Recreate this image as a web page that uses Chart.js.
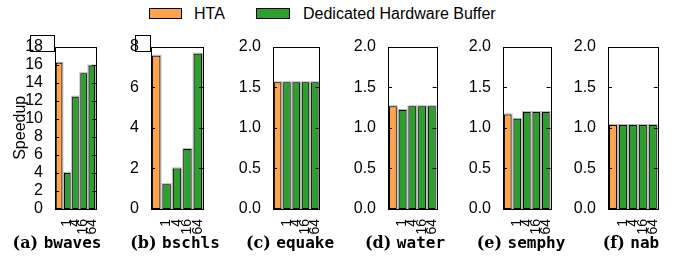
<!DOCTYPE html>
<html>
<head>
<meta charset="utf-8">
<script src="https://cdn.jsdelivr.net/npm/chart.js@4"></script>
<style>
body{margin:0;width:676px;height:260px;background:#fff;position:relative;overflow:hidden;font-family:'Liberation Sans',Arial,sans-serif;color:#000}
canvas{position:absolute}
.box{position:absolute;top:8px;height:9px;border:1px solid #000}
.lt{position:absolute;top:5px;font-size:16px;line-height:18px;white-space:nowrap}
.cap{position:absolute;top:233px;transform:translateX(-50%);white-space:nowrap;font-size:16px;line-height:20px}
.cap .l{font-family:'DejaVu Serif';font-weight:bold}
.cap .b{font-family:'DejaVu Sans Mono';font-weight:bold}
</style>
</head>
<body>
<div class="box" style="left:149px;width:31px;background:#FFA34D"></div>
<div class="lt" style="left:194px">HTA</div>
<div class="box" style="left:256px;width:32px;background:#2CA02C"></div>
<div class="lt" style="left:303px">Dedicated Hardware Buffer</div>
<script>
const categories = ['', '1', '4', '16', '64'];
const benchmarks = ['bwaves', 'bschls', 'equake', 'water', 'semphy', 'nab'];
const panelLetters = ['a', 'b', 'c', 'd', 'e', 'f'];
const htaSpeedup = [16.2, 7.55, 1.56, 1.265, 1.165, 1.035];
const bufferSpeedup = [
    [4.0, 12.45, 15.05, 15.9],
    [1.22, 2.0, 2.95, 7.65],
    [1.56, 1.56, 1.56, 1.56],
    [1.22, 1.265, 1.265, 1.265],
    [1.11, 1.195, 1.195, 1.195],
    [1.035, 1.035, 1.035, 1.035]
];
const yMax = [18, 8, 2, 2, 2, 2];
const yStep = [2, 2, 0.5, 0.5, 0.5, 0.5];

// plot frame positions in the page
const plotLeft = [55, 151, 273, 388, 503, 608];
const plotRight = [107, 213, 330, 447, 561, 668];
const capCenter = [57, 175, 290, 405, 521, 631];

const ORANGE = '#FFA34D';
const GREEN = '#2CA02C';

const frame = {
    id: 'frame',
    beforeDatasetsDraw(chart) {
        // soft grey halo round each bar
        const ctx = chart.ctx;
        ctx.save();
        ctx.fillStyle = '#bbb';
        chart.getDatasetMeta(0).data.forEach(bar => {
            const p = bar.getProps(['x', 'y', 'base', 'width'], true);
            ctx.fillRect(p.x - p.width / 2 - 1, p.y - 1, p.width + 2, p.base - p.y + 1);
        });
        ctx.restore();
    },
    afterDraw(chart, args, opts) {
        const {ctx, chartArea: {left, right, top, bottom}} = chart;
        const y = chart.scales.y;
        ctx.save();
        ctx.strokeStyle = '#000';
        ctx.lineWidth = 1;
        ctx.strokeRect(Math.round(left) + 0.5, Math.round(top) + 0.5, Math.round(right - left), Math.round(bottom - top));
        ctx.beginPath();
        y.ticks.forEach(t => {
            const py = Math.round(y.getPixelForValue(t.value)) + 0.5;
            ctx.moveTo(left, py); ctx.lineTo(left + 4, py);
            ctx.moveTo(right, py); ctx.lineTo(right - 4, py);
        });
        ctx.stroke();
        if (opts.boxTop) {
            const last = y.ticks[y.ticks.length - 1];
            ctx.font = '16px "Liberation Sans"';
            const w = ctx.measureText(last.label).width;
            const xr = left - 4;
            ctx.strokeRect(Math.round(xr - w - 3) + 0.5, 35.5 - chart.canvas.offsetTop, Math.round(w + 6), 16);
        }
        ctx.restore();
    }
};

benchmarks.forEach((name, i) => {
    const yw = i === 0 ? 55 : 40;
    const plotW = plotRight[i] - plotLeft[i];
    const canvas = document.createElement('canvas');
    canvas.width = yw + plotW + 4;
    canvas.height = 204;
    canvas.style.left = (plotLeft[i] - yw) + 'px';
    canvas.style.top = '33px';
    document.body.appendChild(canvas);

    const cap = document.createElement('div');
    cap.className = 'cap';
    cap.style.left = capCenter[i] + 'px';
    cap.innerHTML = '<span class="l">(' + panelLetters[i] + ') </span><span class="b">' + name + '</span>';
    document.body.appendChild(cap);

    new Chart(canvas, {
        type: 'bar',
        data: {
            labels: categories,
            datasets: [{
                data: [htaSpeedup[i]].concat(bufferSpeedup[i]),
                backgroundColor: [ORANGE, GREEN, GREEN, GREEN, GREEN],
                borderColor: '#000',
                borderWidth: 1,
                borderSkipped: false,
                barPercentage: 0.8,
                categoryPercentage: 1
            }]
        },
        plugins: [frame],
        options: {
            responsive: false,
            animation: false,
            layout: {padding: {top: 10, right: 4, left: 0, bottom: 0}},
            plugins: {
                legend: {display: false},
                tooltip: {enabled: false},
                frame: {boxTop: i < 2}
            },
            scales: {
                x: {
                    offset: true,
                    grid: {display: false},
                    border: {display: false},
                    ticks: {
                        color: '#000',
                        font: {family: 'Liberation Sans', size: 14},
                        minRotation: 90,
                        maxRotation: 90,
                        autoSkip: false,
                        padding: 2
                    },
                    afterFit(s) { s.height = 28; }
                },
                y: {
                    min: 0,
                    max: yMax[i],
                    grid: {display: false},
                    border: {display: false},
                    title: {
                        display: i === 0,
                        text: 'Speedup',
                        color: '#000',
                        font: {family: 'Liberation Sans', size: 16},
                        padding: {top: 11, bottom: 0}
                    },
                    ticks: {
                        stepSize: yStep[i],
                        autoSkip: false,
                        color: '#000',
                        padding: 4,
                        font: {family: 'Liberation Sans', size: 16},
                        callback: v => yStep[i] < 1 ? v.toFixed(1) : String(v)
                    },
                    afterFit(s) { s.width = yw; }
                }
            }
        }
    });
});
</script>
</body>
</html>
